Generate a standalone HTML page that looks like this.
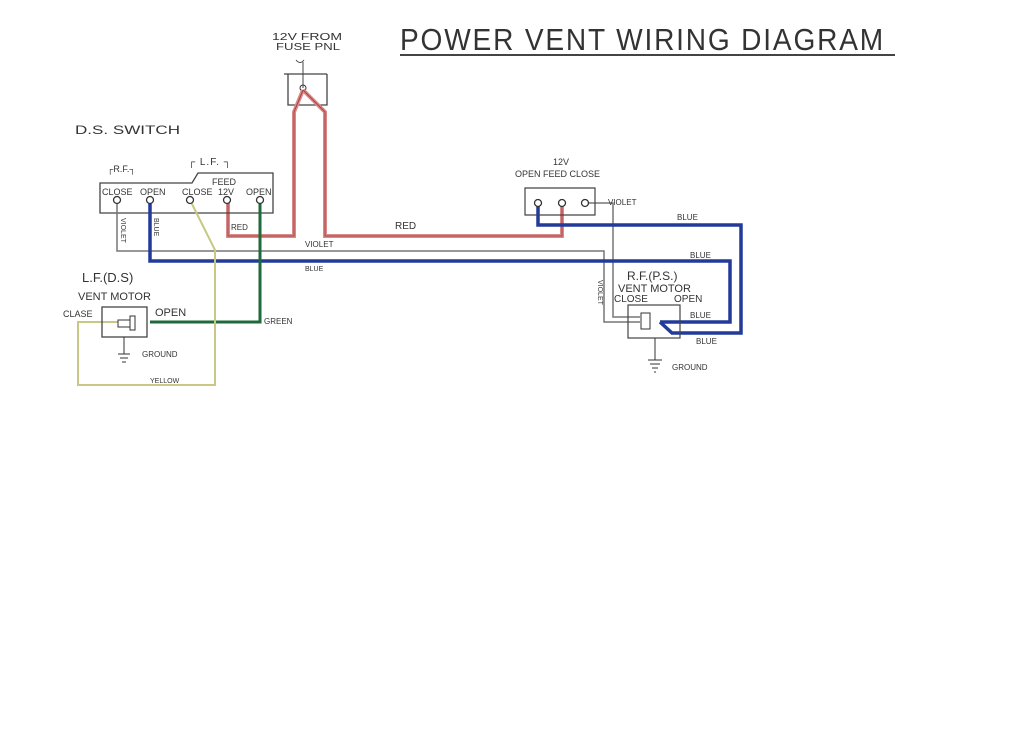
<!DOCTYPE html>
<html><head><meta charset="utf-8"><style>
html,body{margin:0;padding:0;background:#fff;}
svg{display:block;}
text{font-family:"Liberation Sans",sans-serif;fill:#333;}
</style></head><body>
<svg width="1024" height="745" viewBox="0 0 1024 745" xmlns="http://www.w3.org/2000/svg">
<rect width="1024" height="745" fill="#fff"/>
<text x="400" y="50" font-size="31" letter-spacing="2" fill="#333" textLength="485" lengthAdjust="spacingAndGlyphs">POWER VENT WIRING DIAGRAM</text>
<line x1="400" y1="55" x2="895" y2="55" stroke="#444" stroke-width="2"/>
<text x="272" y="40" font-size="10" textLength="70" lengthAdjust="spacingAndGlyphs">12V FROM</text>
<text x="276" y="50" font-size="10" textLength="64" lengthAdjust="spacingAndGlyphs">FUSE PNL</text>
<path d="M296 60 q4 5 8 0 M303 62 V88" stroke="#444" fill="none"/>
<path d="M284 74 H327 M288 74 V105 H327 V74" stroke="#444" fill="none" stroke-width="1.3"/>
<circle cx="303" cy="88" r="3" fill="none" stroke="#333"/>
<g fill="none" stroke="#d98a8a" stroke-width="4">
<path d="M303 90 L294 112 V236 H228 V200"/>
<path d="M303 90 L325 112 V236 H562 V205"/>
</g>
<g fill="none" stroke="#b04040" stroke-width="1">
<path d="M303 90 L294 112 V236 H228 V200"/>
<path d="M303 90 L325 112 V236 H562 V205"/>
</g>
<text x="75" y="134" font-size="12" textLength="105" lengthAdjust="spacingAndGlyphs">D.S. SWITCH</text>
<text x="107" y="172" font-size="9">┌R.F.┐</text>
<text x="188" y="165" font-size="10" letter-spacing="1">┌ L.F. ┐</text>
<text x="212" y="185" font-size="9">FEED</text>
<path d="M100 213 V183 H192 L198 173 H273 V213 Z" fill="none" stroke="#444" stroke-width="1.3"/>
<text x="102" y="195" font-size="9">CLOSE</text><text x="140" y="195" font-size="9">OPEN</text>
<text x="182" y="195" font-size="9">CLOSE</text><text x="218" y="195" font-size="9">12V</text><text x="246" y="195" font-size="9">OPEN</text>
<path d="M117 200 V251 H604 V322 H640 M585 203 H613 V317 H640" fill="none" stroke="#777" stroke-width="1.5"/>
<g fill="none" stroke="#223a9a" stroke-width="3.5">
<path d="M150 200 V261 H730 V322 H660"/>
<path d="M538 205 V225 H741 V333 H672 L660 322"/>
</g>
<path d="M260 200 V322 H150" fill="none" stroke="#1f6a3a" stroke-width="3"/>
<path d="M190 200 L215 250 V385 H78 V322 H125" fill="none" stroke="#c8c884" stroke-width="2"/>
<g fill="#fff" stroke="#333" stroke-width="1.3">
<circle cx="117" cy="200" r="3.5"/><circle cx="150" cy="200" r="3.5"/><circle cx="190" cy="200" r="3.5"/><circle cx="227" cy="200" r="3.5"/><circle cx="260" cy="200" r="3.5"/>
<circle cx="538" cy="203" r="3.5"/><circle cx="562" cy="203" r="3.5"/><circle cx="585" cy="203" r="3.5"/>
</g>
<text x="231" y="230" font-size="8">RED</text>
<text x="395" y="229" font-size="10">RED</text>
<text x="305" y="247" font-size="8">VIOLET</text>
<text x="305" y="271" font-size="7">BLUE</text>
<text x="121" y="218" font-size="7" transform="rotate(90 121 218)">VIOLET</text>
<text x="154" y="218" font-size="7" transform="rotate(90 154 218)">BLUE</text>
<text x="264" y="324" font-size="8">GREEN</text>
<text x="150" y="383" font-size="7">YELLOW</text>
<text x="82" y="282" font-size="13">L.F.(D.S)</text>
<text x="78" y="300" font-size="11">VENT MOTOR</text>
<text x="63" y="317" font-size="9">CLASE</text>
<text x="155" y="316" font-size="11">OPEN</text>
<rect x="102" y="307" width="45" height="30" fill="none" stroke="#444" stroke-width="1.3"/>
<rect x="118" y="320" width="12" height="7" fill="#fff" stroke="#333"/><rect x="130" y="316" width="5" height="14" fill="#fff" stroke="#333"/>
<path d="M124 337 V354 M118 354 H130 M120 358 H128 M122 362 H126" stroke="#333" fill="none"/>
<text x="142" y="357" font-size="8">GROUND</text>
<text x="553" y="165" font-size="9">12V</text>
<text x="515" y="177" font-size="9">OPEN  FEED  CLOSE</text>
<path d="M525 188 H595 V215 H525 Z" fill="none" stroke="#444" stroke-width="1.2"/>
<text x="608" y="205" font-size="8">VIOLET</text>
<text x="677" y="220" font-size="8">BLUE</text>
<text x="690" y="258" font-size="8">BLUE</text>
<text x="598" y="280" font-size="7" transform="rotate(90 598 280)">VIOLET</text>
<text x="627" y="280" font-size="12">R.F.(P.S.)</text>
<text x="618" y="292" font-size="11">VENT MOTOR</text>
<text x="614" y="302" font-size="10">CLOSE</text><text x="674" y="302" font-size="10">OPEN</text>
<text x="690" y="318" font-size="8">BLUE</text>
<text x="696" y="344" font-size="8">BLUE</text>
<rect x="628" y="305" width="52" height="33" fill="none" stroke="#444" stroke-width="1.2"/>
<rect x="641" y="313" width="9" height="16" fill="#fff" stroke="#333"/>
<path d="M655 338 V360 M648 360 H662 M650 364 H660 M652 368 H658 M654 372 H656" stroke="#333" fill="none"/>
<text x="672" y="370" font-size="8">GROUND</text>
</svg>
</body></html>
